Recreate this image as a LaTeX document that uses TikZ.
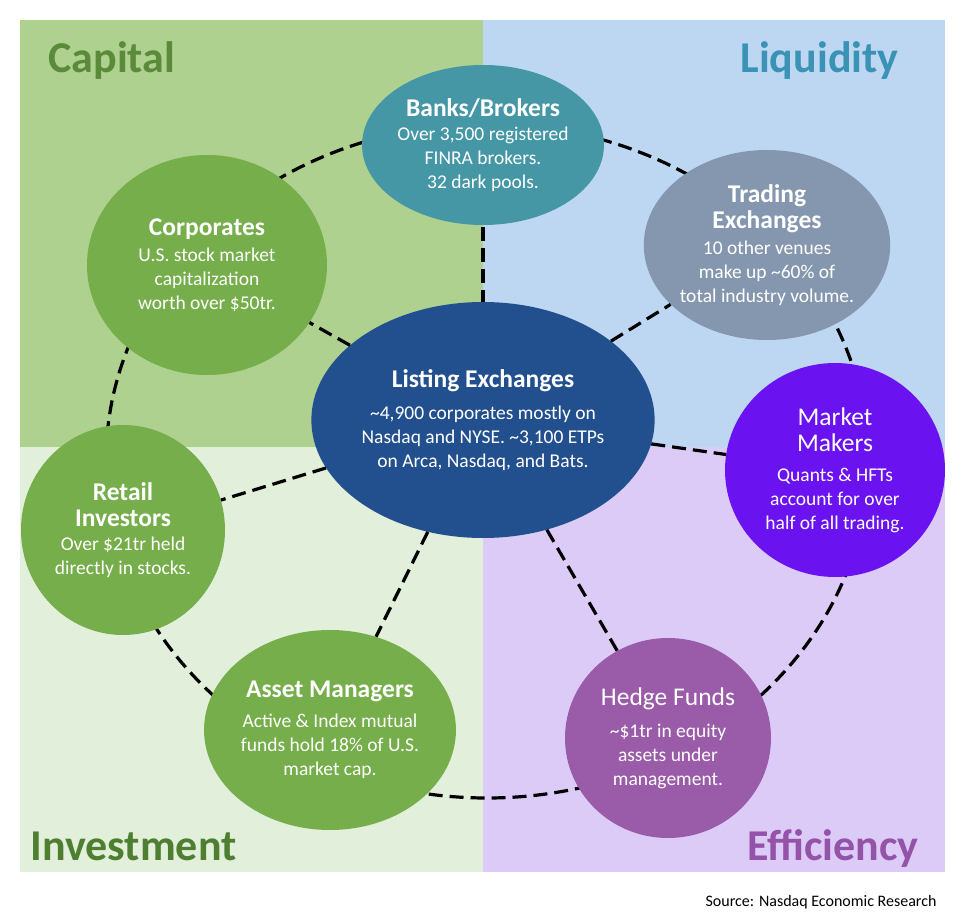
\documentclass[tikz,border=0pt]{standalone}
\usepackage{fontspec}
\setmainfont{Carlito}
\usetikzlibrary{shapes.geometric}
\definecolor{qcap}{HTML}{AED18F}
\definecolor{qliq}{HTML}{BDD7F2}
\definecolor{qinv}{HTML}{E2EFDA}
\definecolor{qeff}{HTML}{DCCBF7}
\definecolor{tcap}{HTML}{5B8A3A}
\definecolor{tliq}{HTML}{3A93B5}
\definecolor{tinv}{HTML}{4E7F30}
\definecolor{teff}{HTML}{9452A8}
\definecolor{cbank}{HTML}{4597A5}
\definecolor{ctrade}{HTML}{8597AE}
\definecolor{cgreen}{HTML}{75AE4A}
\definecolor{clist}{HTML}{22508F}
\definecolor{cmm}{HTML}{6A13F0}
\definecolor{chedge}{HTML}{9A5BA8}
\newcommand\ttlf{\fontsize{25.5}{30}\selectfont\bfseries}
\newcommand\ttln{\fontsize{25.5}{30}\selectfont}
\begin{document}
\begin{tikzpicture}[x=1pt,y=-1pt,
  ent/.style={ellipse,fill=#1,text=white,align=center,inner sep=0pt,font=\fontsize{19.5}{24}\selectfont},
  quad/.style={font=\fontsize{44}{48}\selectfont\bfseries,anchor=base west},
  link/.style={line width=3.2pt,dash pattern=on 14pt off 7pt,black}]
\useasboundingbox (0,0) rectangle (972,920);
\fill[white] (0,0) rectangle (972,920);
\fill[qcap] (20,20) rectangle (483,447);
\fill[qliq] (483,20) rectangle (945,447);
\fill[qinv] (20,447) rectangle (483,872);
\fill[qeff] (483,447) rectangle (945,872);
\node[quad,text=tcap] (qa) at (45,73) {Capital};
\node[quad,text=tliq,anchor=base east] (qb) at (902,73) {Liquidity};
\node[quad,text=tinv] (qc) at (27,860) {Investment};
\node[quad,text=teff,anchor=base east] (qd) at (922,860) {Efficiency};
\node[anchor=base east,font=\fontsize{16}{18}\selectfont] (src) at (940,906) {Source: Nasdaq Economic Research};
\draw[link] (487,461) ellipse [x radius=381,y radius=337];
\node[ent=cbank,minimum width=220,minimum height=160] (bank) at (483,145) {{\ttlf Banks/Brokers}\\Over 3,500 registered\\FINRA brokers.\\32 dark pools.};
\node[ent=ctrade,minimum width=220,minimum height=190] (trade) at (767,245) {{\ttlf Trading}\\[2pt]{\ttlf Exchanges}\\[2pt]10 other venues\\make up \textasciitilde60\% of\\total industry volume.};
\node[ent=cgreen,minimum width=240,minimum height=220] (corp) at (207,265) {{\ttlf Corporates}\\[2pt]U.S. stock market\\capitalization\\worth over \$50tr.};
\node[ent=cmm,minimum width=220,minimum height=214] (mm) at (835,470) {{\ttln Market}\\[2pt]{\ttln Makers}\\[6pt]Quants \& HFTs\\account for over\\half of all trading.};
\node[ent=cgreen,minimum width=204,minimum height=210] (retail) at (123,530) {{\ttlf Retail}\\[2pt]{\ttlf Investors}\\Over \$21tr held\\directly in stocks.};
\node[ent=cgreen,minimum width=250,minimum height=200] (asset) at (330,730) {{\ttlf Asset Managers}\\[6pt]Active \& Index mutual\\funds hold 18\% of U.S.\\market cap.};
\node[ent=chedge,minimum width=206,minimum height=200] (hedge) at (668,738) {{\ttln Hedge Funds}\\[8pt]\textasciitilde\$1tr in equity\\assets under\\management.};
\draw[link,shorten <=2pt] (bank) -- (483,320) coordinate (lt);
\node[ent=clist,minimum width=340,minimum height=236] (list) at (483,420) {{\ttlf Listing Exchanges}\\[8pt]\textasciitilde4,900 corporates mostly on\\Nasdaq and NYSE. \textasciitilde3,100 ETPs\\on Arca, Nasdaq, and Bats.};
\draw[link] (list) -- (corp);
\draw[link] (list) -- (trade);
\draw[link] (list) -- (mm);
\draw[link] (list) -- (hedge);
\draw[link] (list) -- (asset);
\draw[link] (list) -- (retail);
\end{tikzpicture}
\end{document}
